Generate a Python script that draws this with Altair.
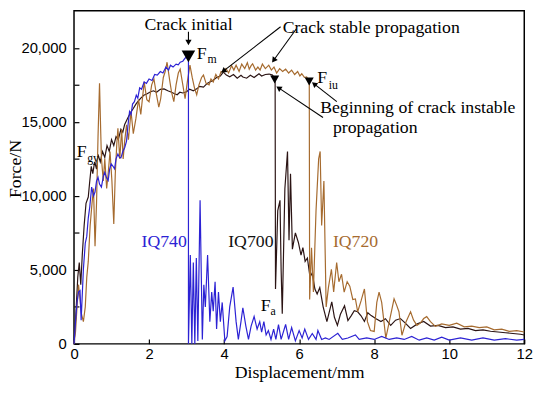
import math
import altair as alt
import pandas as pd

# ---------------- data ----------------
iq740_d = [0, 0.04, 0.08, 0.12, 0.16, 0.19, 0.25, 0.3, 0.34, 0.38, 0.42, 0.47, 0.52, 0.56, 0.6, 0.64, 0.68, 0.73,
           0.78, 0.82, 0.87, 0.91, 0.95, 0.99, 1.04, 1.08, 1.12, 1.17, 1.21, 1.25, 1.3, 1.35, 1.4, 1.44, 1.48, 1.52,
           1.56, 1.61, 1.66, 1.7, 1.75, 1.8, 1.87, 1.93, 2.0, 2.08, 2.15, 2.22, 2.3, 2.37, 2.45, 2.52, 2.57, 2.64,
           2.72, 2.78, 2.83, 2.9, 2.96, 3.0, 3.05,
           3.05, 3.1, 3.14, 3.18, 3.22, 3.26, 3.3, 3.36, 3.42, 3.46, 3.5, 3.56, 3.62, 3.67, 3.71, 3.76, 3.8, 3.85,
           3.9, 3.95, 4.02, 4.08, 4.15, 4.24, 4.32, 4.38, 4.45, 4.5, 4.58, 4.65, 4.72, 4.8, 4.88, 4.95, 5.0, 5.06,
           5.12, 5.18, 5.25, 5.32, 5.38, 5.45, 5.52, 5.64, 5.72, 5.8, 5.9, 6.0, 6.08, 6.15, 6.25, 6.35, 6.45, 6.5,
           6.6, 6.7, 6.8, 7.03, 7.15, 7.3, 7.5, 7.6, 7.8, 8.0, 8.2, 8.4, 8.6, 8.8, 9.0, 9.2, 9.4, 9.6, 9.8, 10.0,
           10.3, 10.6, 10.9, 11.2, 11.5, 11.8, 12.0]
iq740_f = [0, 1500, 2800, 3500, 3600, 1600, 5040, 6800, 7260, 8500, 9260, 10590, 10000, 10260, 11000, 11260, 10800,
           10590, 11300, 11590, 11200, 11040, 11800, 12160, 12000, 11830, 12500, 12830, 12600, 12570, 13000, 13250,
           13700, 14800, 15700, 15500, 16200, 16360, 16800, 16600, 17300, 17200, 17700, 17600, 17900, 17800, 18200,
           18160, 18400, 18300, 18700, 18500, 18830, 18700, 18900, 18850, 19030, 19100, 19300, 19400, 19490,
           0, 6000, 0, 5500, 0, 5800, 200, 9700, 300, 4000, 2500, 6000, 1500, 3500, 2200, 4200, 1000, 3500,
           1500, 2800, 200, 500, 2500, 3840, 1500, 300, 1500, 2440, 1200, 300, 1200, 1850, 1000, 1500, 800, 1500,
           600, 900, 300, 1000, 300, 1300, 300, 1310, 300, 1100, 200, 900, 400, 1000, 300, 700, 300, 900,
           300, 400, 300, 710, 300, 400, 600, 300, 400, 300, 500, 300, 400, 300, 500, 250, 400, 250, 450, 250,
           400, 250, 400, 250, 350, 250, 300]

iq700_d = [0, 0.05, 0.1, 0.14, 0.18, 0.22, 0.27, 0.32, 0.38, 0.42, 0.46, 0.5, 0.55, 0.6, 0.64, 0.7, 0.76, 0.82,
           0.88, 0.94, 1.0, 1.06, 1.12, 1.18, 1.25, 1.3, 1.35, 1.42, 1.5, 1.58, 1.65, 1.7, 1.78, 1.86, 1.95, 2.04,
           2.12, 2.2, 2.3, 2.4, 2.5, 2.6, 2.68, 2.75, 2.82, 2.9, 3.0, 3.08, 3.18, 3.27, 3.35, 3.45, 3.55, 3.62,
           3.7, 3.8, 3.9, 3.98, 4.06, 4.15, 4.25, 4.35, 4.45, 4.5, 4.6, 4.7, 4.8, 4.93, 5.0, 5.1, 5.2, 5.29, 5.33,
           5.36,
           5.37, 5.43, 5.49, 5.52, 5.55, 5.62, 5.69, 5.73, 5.77, 5.82, 5.9, 5.98, 6.05, 6.1, 6.16, 6.22, 6.29,
           6.35, 6.42, 6.48, 6.55, 6.64, 6.74, 6.87, 6.94, 7.02, 7.1, 7.21, 7.3, 7.39, 7.47, 7.56, 7.65, 7.74,
           7.83, 7.92, 8.05, 8.18, 8.3, 8.44, 8.57, 8.7, 8.83, 8.97, 9.15, 9.32, 9.5, 9.7, 9.9, 10.1, 10.3, 10.5,
           10.7, 10.9, 11.1, 11.3, 11.5, 11.7, 11.9, 12.0]
iq700_f = [0, 2000, 4500, 5500, 4000, 6000, 8000, 9500, 9920, 11000, 12000, 11500, 12300, 11800, 12800, 12300,
           13000, 12600, 13400, 13000, 13800, 13400, 14000, 13800, 14500, 14300, 14830, 15200, 15600, 15900, 16200,
           16360, 16600, 16800, 16900, 17030, 17100, 17000, 17200, 17230, 17100, 17000, 16900, 16830, 17000, 16950,
           17030, 17200, 17100, 17230, 17400, 17350, 17600, 17700, 17800, 18000, 18100, 18360, 18160, 18050, 18200,
           17950, 18150, 18030, 17950, 18150, 18000, 18250, 18100, 18200, 18230, 18160, 18000, 17875,
           3700, 9000, 9700, 5000, 2040, 10500, 13000, 7000, 11500, 6400, 7500, 6850, 6000, 6500, 5570, 5800, 4500,
           4800, 3700, 3370, 3800, 2500, 1500, 2840, 1800, 1250, 2000, 2570, 1580, 1910, 2240, 2170, 1900, 1510,
           2100, 1910, 1700, 1510, 1700, 1250, 1600, 1710, 1400, 1040, 1350, 1510, 1200, 1250, 1100, 1150, 1000,
           1050, 900, 950, 850, 800, 750, 700, 650, 600]

iq720_d = [0, 0.04, 0.08, 0.12, 0.16, 0.2, 0.25, 0.3, 0.34, 0.38, 0.43, 0.48, 0.52, 0.56, 0.6, 0.64, 0.68, 0.71,
           0.73, 0.78, 0.82, 0.87, 0.91, 0.96, 1.01, 1.06, 1.1, 1.14, 1.17, 1.22, 1.27, 1.31, 1.35, 1.4, 1.45,
           1.52, 1.58, 1.65, 1.72, 1.78, 1.87, 1.94, 2.0, 2.07, 2.13, 2.2, 2.26, 2.31, 2.38, 2.43, 2.48, 2.55, 2.6,
           2.66, 2.72, 2.78, 2.83, 2.9, 2.96, 3.02, 3.09, 3.15, 3.21, 3.27, 3.33, 3.4, 3.45, 3.52, 3.6, 3.65, 3.71,
           3.78, 3.85, 3.92, 3.97, 4.05, 4.12, 4.2, 4.26, 4.32, 4.4, 4.47, 4.55, 4.62, 4.67, 4.72, 4.76, 4.84, 4.9,
           4.96, 5.02, 5.1, 5.19, 5.26, 5.33, 5.4, 5.48, 5.56, 5.64, 5.72, 5.8, 5.88, 5.96, 6.02, 6.07, 6.14, 6.2,
           6.27,
           6.28, 6.33, 6.38, 6.45, 6.52, 6.56, 6.6, 6.66, 6.72, 6.78, 6.86, 6.92, 7.0, 7.06, 7.13, 7.2, 7.28, 7.35,
           7.43, 7.5, 7.56, 7.65, 7.74, 7.82, 7.9, 8.0, 8.07, 8.13, 8.2, 8.26, 8.31, 8.42, 8.53, 8.6, 8.66, 8.74,
           8.85, 8.97, 9.05, 9.14, 9.23, 9.32, 9.4, 9.5, 9.63, 9.8, 10.0, 10.2, 10.4, 10.6, 10.8, 11.0, 11.2,
           11.4, 11.6, 11.8, 12.0]
iq720_f = [0, 800, 2500, 4000, 3000, 2000, 1500, 2500, 4500, 5570, 8000, 9500, 10500, 6590, 9500, 14000, 17600,
           14500, 12570, 11000, 12500, 10500, 11500, 13000, 11000, 8100, 11500, 13500, 14560, 12500, 14500, 12500,
           13700, 14800, 13800, 15700, 14200, 15230, 16500, 15500, 17700, 16500, 16360, 17500, 17900, 16800, 16000,
           16560, 18000, 18400, 19030, 17800, 17000, 16360, 17500, 18300, 18560, 17500, 16560, 17700, 18830, 18000,
           17300, 16830, 17500, 18000, 18160, 17600, 17500, 17900, 17700, 18200, 17900, 18400, 18360, 18600, 18300,
           18800, 18500, 18830, 18400, 18900, 18600, 19000, 18560, 18800, 18920, 18500, 18700, 18500, 18900, 18600,
           18830, 18500, 18700, 18300, 18600, 18400, 18560, 18300, 18500, 18200, 18400, 18100, 18250, 18000, 18030,
           17740,
           3000, 6500, 3500, 9000, 12500, 13000, 8000, 11000, 2500, 3800, 5040, 3500, 5500, 4200, 4700, 3500, 4200,
           3900, 3000, 3040, 2170, 2900, 3710, 1500, 900, 840, 2800, 3500, 2800, 1500, 380, 1700, 3040, 2600, 2170,
           580, 1500, 2170, 1600, 1250, 1400, 1710, 1840, 1500, 1180, 1350, 1250, 1400, 1150, 1200, 1100, 1150,
           950, 1000, 850, 900, 800]

series_names = ["IQ700", "IQ720", "IQ740"]
series_colors = ["#2b1414", "#a66b2f", "#2c22d4"]

# annotation texts: (text, d, F, size, colour)
ann_text = ["Crack initial", "F", "m", "Crack stable propagation", "F", "iu",
            "Beginning of crack instable", "propagation", "F", "gy", "F", "a",
            "IQ740", "IQ700", "IQ720"]
ann_d = [1.88, 3.27, 3.56, 5.56, 6.48, 6.79, 6.56, 6.90, 0.07, 0.35, 4.98, 5.24, 1.80, 4.11, 6.90]
ann_f = [21226, 19227, 18960, 21026, 17629, 17230, 15631, 14233, 12634, 12300, 2244, 1978, 6573, 6573, 6573]
ann_size = [18, 18, 12, 18, 18, 12, 18, 18, 18, 12, 18, 12, 18, 18, 18]
ann_color = ["black"] * 12 + ["#2c22d4", "#111111", "#a66b2f"]

# triangle markers (down-pointing)
tri_d = [3.049, 5.348, 6.268]
tri_f = [19427, 17862, 17729]
tri_size = [190, 85, 85]

# arrows: start (d, F) -> end (d, F)
arr_d1 = [3.05, 5.506, 5.927, 6.636, 7.004]
arr_f1 = [21090, 21423, 21290, 15298, 16364]
arr_d2 = [3.05, 3.98, 5.321, 5.453, 6.399]
arr_f2 = [20360, 18427, 19160, 17296, 17562]

# ---------------- layout ----------------
W, H = 457, 338
XMAX, YMAX = 12, 22500
pxd = W / XMAX
pxf = H / YMAX

rows = []
for name, ds, fs in [("IQ700", iq700_d, iq700_f), ("IQ720", iq720_d, iq720_f), ("IQ740", iq740_d, iq740_f)]:
    for i, (d, f) in enumerate(zip(ds, fs)):
        rows.append({"d": d, "F": f, "series": name, "o": i})
df = pd.DataFrame(rows)

xs = alt.Scale(domain=[0, XMAX], nice=False)
ys = alt.Scale(domain=[0, YMAX], nice=False)

x_axis = alt.Axis(values=list(range(0, 13, 2)), format="d", labelFont="Liberation Sans", labelFontSize=15,
                  labelColor="black", tickColor="black", tickSize=5, tickWidth=1.2, offset=-5, domain=False,
                  grid=False, labelPadding=3, labelFlush=False, title="Displacement/mm",
                  titleFont="Liberation Serif", titleFontSize=18, titleFontWeight="normal", titleColor="black",
                  titlePadding=2)
y_axis = alt.Axis(values=list(range(0, 20001, 2500)),
                  labelExpr="datum.value % 5000 === 0 ? format(datum.value, ',') : ''",
                  labelFont="Liberation Sans", labelFontSize=15, labelColor="black", tickColor="black",
                  tickSize=5, tickWidth=1.2, offset=-5, domain=False, grid=False, labelPadding=8,
                  title="Force/N", titleFont="Liberation Serif", titleFontSize=18, titleFontWeight="normal",
                  titleColor="black", titleAngle=270, titleBaseline="alphabetic", titleAlign="center",
                  titleX=-59, titleY=160)


def X(field):
    return alt.X(field, scale=xs, axis=x_axis, title="Displacement/mm")


def Y(field):
    return alt.Y(field, scale=ys, axis=y_axis, title="Force/N")


layers = []
for k, name in enumerate(series_names):
    layers.append(alt.Chart(df[df.series == name]).mark_line(strokeWidth=1.2, color=series_colors[k]).encode(
        x=X("d:Q"), y=Y("F:Q"), order="o:Q"))

tri_df = pd.DataFrame({"d": tri_d, "F": tri_f, "s": tri_size})
layers.append(alt.Chart(tri_df).mark_point(shape="triangle-down", filled=True, color="black", opacity=1).encode(
    x=X("d:Q"), y=Y("F:Q"), size=alt.Size("s:Q", scale=None, legend=None)))

arr_rows = []
for a, b, c, e in zip(arr_d1, arr_f1, arr_d2, arr_f2):
    dx = (c - a) * pxd
    dy = -(e - b) * pxf
    ang = math.degrees(math.atan2(dx, -dy)) % 360
    arr_rows.append({"d": a, "F": b, "d2": c, "F2": e, "ang": ang})
arr_df = pd.DataFrame(arr_rows)
layers.append(alt.Chart(arr_df).mark_rule(color="black", strokeWidth=1.1).encode(
    x=X("d:Q"), y=Y("F:Q"), x2="d2:Q", y2="F2:Q"))
layers.append(alt.Chart(arr_df).mark_point(shape="triangle-up", filled=True, color="black", opacity=1, size=40).encode(
    x=X("d2:Q"), y=Y("F2:Q"), angle=alt.Angle("ang:Q", scale=None)))

ann_df = pd.DataFrame({"t": ann_text, "d": ann_d, "F": ann_f, "s": ann_size, "c": ann_color})
layers.append(alt.Chart(ann_df).mark_text(align="left", baseline="alphabetic", font="Liberation Serif").encode(
    x=X("d:Q"), y=Y("F:Q"), text="t:N",
    size=alt.Size("s:Q", scale=None, legend=None), color=alt.Color("c:N", scale=None, legend=None)))

chart = alt.layer(*layers).properties(
    width=W, height=H,
    autosize=alt.AutoSizeParams(type="none"),
    padding={"left": 67, "top": 0, "right": 18, "bottom": 49},
    background="white",
).configure_view(stroke="black", strokeWidth=1.5)

chart.save("out.html", embed_options={"renderer": "svg", "actions": False})
